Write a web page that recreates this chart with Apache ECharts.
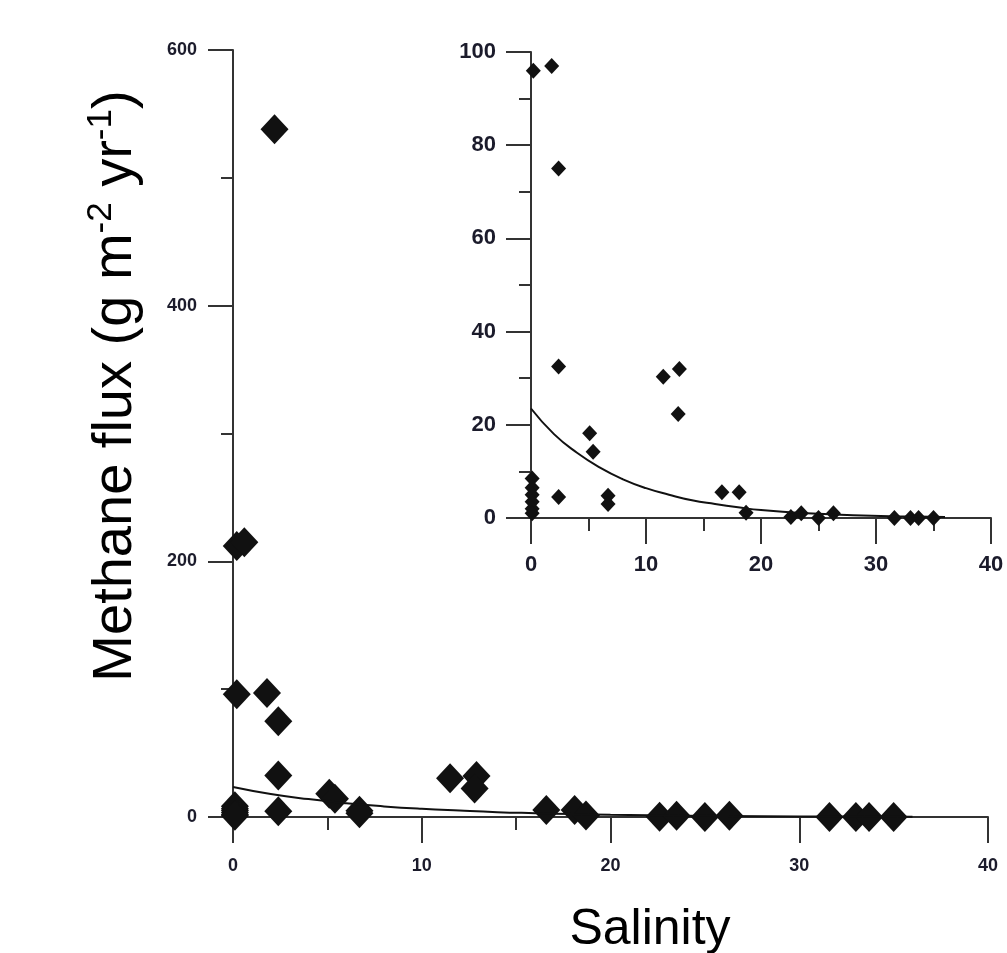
<!DOCTYPE html>
<html>
<head>
<meta charset="utf-8">
<script src="https://cdn.jsdelivr.net/npm/echarts@6/dist/echarts.min.js"></script>
<style>
  html, body { margin: 0; padding: 0; background: #fff; }
  #chart { width: 1007px; height: 953px; }
</style>
</head>
<body>
<div id="chart"></div>
<script>
// salinity and methane flux (same points in both panels)
var salinity = [2.2, 0.2, 0.6, 0.2, 1.8, 2.4, 2.4, 2.4, 0.1, 0.1, 0.1, 0.1, 0.1, 0.1,
  5.1, 5.4, 6.7, 6.7, 11.5, 12.9, 12.8, 16.6, 18.1, 18.7, 22.6, 23.5, 25.0, 26.3,
  31.6, 33.0, 33.7, 35.0];
var flux = [538, 212, 215, 96, 97, 75, 32.5, 4.5, 8.5, 6.5, 5, 3.5, 2, 1,
  18.2, 14.2, 4.8, 3, 30.3, 32, 22.3, 5.5, 5.5, 1.1, 0.2, 1, 0, 1,
  0, 0, 0, 0];

// fitted curve
var fitSalinity = [0, 2, 4, 6, 8, 10, 12, 14, 16, 18, 20, 24, 28, 32, 36];
var fitFlux = [23.5, 18, 14, 10.8, 8.3, 6.4, 5, 3.8, 3, 2.3, 1.7, 1, 0.6, 0.35, 0.2];

var xTicks = [0, 10, 20, 30, 40];
var mainYTicks = [0, 200, 400, 600];
var insetYTicks = [0, 20, 40, 60, 80, 100];

var chart = echarts.init(document.getElementById("chart"));

var points = salinity.map(function (s, i) { return [s, flux[i]]; });
var fit = fitSalinity.map(function (s, i) { return [s, fitFlux[i]]; });

var axisColor = "#333";
var labelStyle = {
  fontFamily: "Liberation Sans",
  fontWeight: "bold",
  color: "#1b1b2b",
};

function xAxisFor(grid, margin, fontSize) {
  return {
    gridIndex: grid,
    type: "value",
    min: xTicks[0],
    max: xTicks[xTicks.length - 1],
    interval: xTicks[1] - xTicks[0],
    splitLine: { show: false },
    axisLine: { onZero: false, lineStyle: { color: axisColor, width: 2 } },
    axisTick: { length: 26, lineStyle: { color: axisColor, width: 2 } },
    minorTick: { show: true, splitNumber: 2, length: 13, lineStyle: { color: axisColor, width: 2 } },
    axisLabel: Object.assign({ margin: margin, fontSize: fontSize }, labelStyle),
  };
}

function yAxisFor(grid, ticks, margin, fontSize) {
  return {
    gridIndex: grid,
    type: "value",
    min: ticks[0],
    max: ticks[ticks.length - 1],
    interval: ticks[1] - ticks[0],
    splitLine: { show: false },
    axisLine: { show: true, onZero: false, lineStyle: { color: axisColor, width: 2 } },
    axisTick: { show: true, length: 25, lineStyle: { color: axisColor, width: 2 } },
    minorTick: { show: true, splitNumber: 2, length: 12, lineStyle: { color: axisColor, width: 2 } },
    axisLabel: Object.assign({ margin: margin, fontSize: fontSize }, labelStyle),
  };
}

var option = {
  animation: false,
  backgroundColor: "#fff",
  grid: [
    { left: 233, top: 50, width: 755, height: 767 },
    { left: 531, top: 52, width: 460, height: 466 },
  ],
  xAxis: [xAxisFor(0, 40, 18), xAxisFor(1, 36, 22)],
  yAxis: [yAxisFor(0, mainYTicks, 36, 18), yAxisFor(1, insetYTicks, 35, 22)],
  series: [
    {
      type: "line",
      xAxisIndex: 0,
      yAxisIndex: 0,
      data: fit,
      smooth: true,
      showSymbol: false,
      lineStyle: { color: "#111", width: 2 },
    },
    {
      type: "scatter",
      xAxisIndex: 0,
      yAxisIndex: 0,
      data: points,
      symbol: "diamond",
      symbolSize: [28, 30],
      itemStyle: { color: "#111", opacity: 1 },
    },
    {
      type: "line",
      xAxisIndex: 1,
      yAxisIndex: 1,
      data: fit,
      smooth: true,
      showSymbol: false,
      lineStyle: { color: "#111", width: 2 },
    },
    {
      type: "scatter",
      xAxisIndex: 1,
      yAxisIndex: 1,
      data: points,
      clip: true,
      symbol: "diamond",
      symbolSize: [15, 16],
      itemStyle: { color: "#111", opacity: 1 },
    },
  ],
  graphic: [
    {
      type: "text",
      x: 116,
      y: 386,
      rotation: Math.PI / 2,
      style: {
        text: "{a|Methane flux (g m}{s|-2}{a| yr}{s|-1}{a|)}",
        align: "center",
        verticalAlign: "middle",
        rich: {
          a: { fontSize: 56, fontFamily: "Liberation Sans", fill: "#000", lineHeight: 64 },
          s: { fontSize: 35, fontFamily: "Liberation Sans", fill: "#000", lineHeight: 42, verticalAlign: "top" },
        },
      },
    },
    {
      type: "text",
      x: 650,
      y: 930,
      style: {
        text: "Salinity",
        align: "center",
        verticalAlign: "middle",
        fontSize: 50,
        fontFamily: "Liberation Sans",
        fill: "#000",
      },
    },
  ],
};

chart.setOption(option);
</script>
</body>
</html>
